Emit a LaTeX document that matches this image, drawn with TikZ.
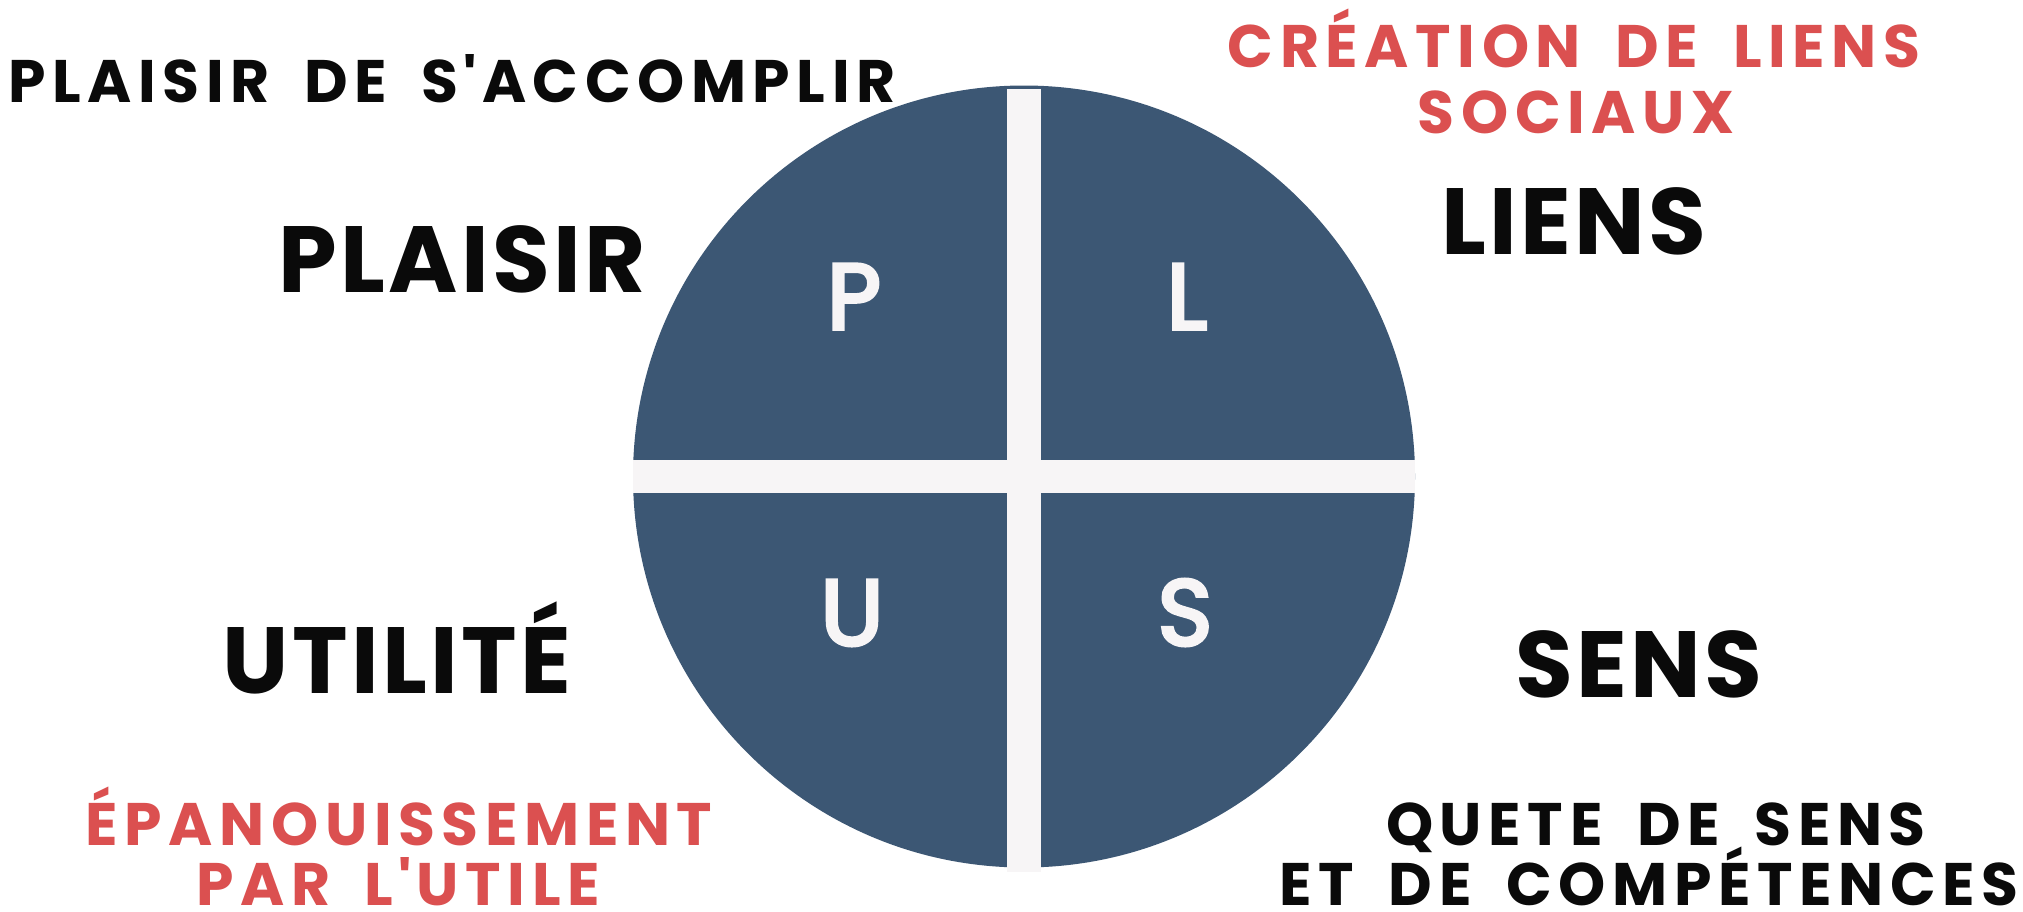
\documentclass[tikz,border=0pt]{standalone}
\usepackage{fontspec}
\setmainfont{Poppins}
\newfontfamily\trackedfont[LetterSpace=11,WordSpace=1.8]{Poppins}
\newfontfamily\widefont[LetterSpace=3.5]{Poppins}
\newfontfamily\letterfont[FakeBold=4]{Poppins}
\newcommand{\apos}{\kern5pt\textquotesingle\kern5pt}
\definecolor{plusnavy}{RGB}{60,87,116}
\definecolor{plusbar}{RGB}{247,245,246}
\definecolor{plusred}{RGB}{219,80,80}
\definecolor{plusink}{RGB}{10,10,10}
\tikzset{
  bigword/.style={anchor=base, inner sep=0pt, text=plusink,
    font=\widefont\bfseries\fontsize{94}{94}\selectfont},
  smallword/.style={anchor=base, inner sep=0pt,
    font=\trackedfont\bfseries\fontsize{60}{60}\selectfont},
  letter/.style={anchor=base, inner sep=0pt, text=plusbar,
    font=\letterfont\fontsize{93}{93}\selectfont}
}
\begin{document}
\begin{tikzpicture}[x=1pt,y=-1pt]
  \useasboundingbox (0,0) rectangle (2023,911);
  \fill[white] (0,0) rectangle (2023,911);
  % the disc and its cross
  \fill[plusnavy] (1024,476.5) circle (391pt);
  \fill[plusbar] (1007,89) rectangle (1041,872);
  \fill[plusbar] (633,460) rectangle (1415,493);
  % the four letters
  \foreach \name/\ltr/\x/\y in {p/P/854/329, l/L/1187/329, u/U/852/645, s/S/1185/645}
    \node[letter] (\name) at (\x,\y) {\ltr};
  % the four words
  \node[bigword] (plaisir) at (462,292) {PLAISIR};
  \node[bigword] (liens) at (1574,254) {LIENS};
  \node[bigword] (utilite) at (397,693) {UTILITÉ};
  \node[bigword] (sens) at (1639,697) {SENS};
  % what each one brings
  \node[smallword, text=plusink] (accomplir) at (452,102) {PLAISIR DE S\apos ACCOMPLIR};
  \node[smallword, text=plusred] (creation) at (1574,67) {CRÉATION DE LIENS};
  \node[smallword, text=plusred] (sociaux) at (1576,133) {SOCIAUX};
  \node[smallword, text=plusred] (epanouir) at (399,845) {ÉPANOUISSEMENT};
  \node[smallword, text=plusred] (utile) at (398,905) {PAR L\apos UTILE};
  \node[smallword, text=plusink] (quete) at (1656,845) {QUETE DE SENS};
  \node[smallword, text=plusink] (competences) at (1649,905) {ET DE COMPÉTENCES};
\end{tikzpicture}
\end{document}
